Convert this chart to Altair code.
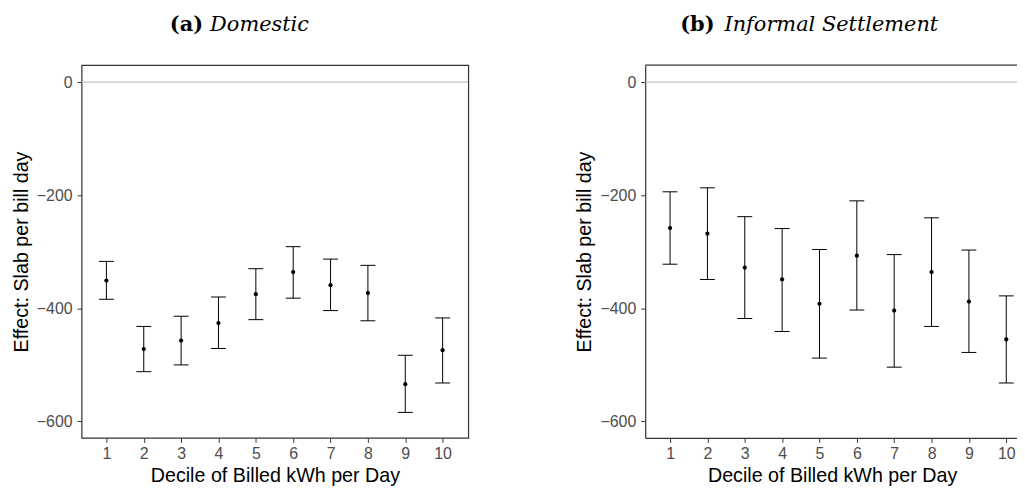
import altair as alt
import pandas as pd

deciles = [1, 2, 3, 4, 5, 6, 7, 8, 9, 10]

dom_est = [-351, -472, -457, -426, -375, -336, -359, -373, -534, -474]
dom_hi = [-317, -432, -414, -380, -330, -291, -313, -324, -483, -417]
dom_lo = [-384, -512, -500, -471, -420, -382, -404, -422, -584, -532]

inf_est = [-258, -268, -328, -349, -392, -307, -404, -336, -388, -455]
inf_hi = [-194, -187, -238, -259, -296, -210, -305, -240, -297, -378]
inf_lo = [-322, -349, -418, -441, -488, -403, -504, -432, -478, -532]

y_ticks = [-600, -400, -200, 0]
titles = [("(a)", "Domestic"), ("(b)", "Informal Settlement")]

H = 375
PX_PER_UNIT = 37.58
X0 = 0.335
W1 = 389
W2 = 376
SANS = "Liberation Sans"
SERIF = "DejaVu Serif"
BORDER = "#333333"


def panel(est, hi, lo, tag, name, tag_right, name_left, width, framed):
    df = pd.DataFrame({"decile": deciles, "est": est, "hi": hi, "lo": lo})
    base = alt.Chart(df)
    xs = alt.Scale(domain=[X0, X0 + width / PX_PER_UNIT], nice=False, zero=False)
    ys = alt.Scale(domain=[-629, 30], nice=False, zero=False)
    xax = alt.Axis(values=deciles, title="Decile of Billed kWh per Day", grid=False,
                   domain=not framed, domainColor=BORDER, domainWidth=1.2,
                   tickColor=BORDER, tickSize=4.5, tickWidth=1,
                   labelColor="#4d4d4d", labelFontSize=16, labelFont=SANS,
                   labelPadding=3, titleFont=SANS, titleFontSize=19.8,
                   titleFontWeight="normal", titleColor="black", titlePadding=4)
    yax = alt.Axis(values=y_ticks, title="Effect: Slab per bill day", grid=False,
                   domain=not framed, domainColor=BORDER, domainWidth=1.2,
                   tickColor=BORDER, tickSize=4.5, tickWidth=1,
                   labelColor="#4d4d4d", labelFontSize=16, labelFont=SANS,
                   labelPadding=5, titleFont=SANS, titleFontSize=19.8,
                   titleFontWeight="normal", titleColor="black", titlePadding=5,
                   format="d", labelExpr="replace(datum.label, '-', '\u2212')")
    zero = alt.Chart(pd.DataFrame({"z": [0]})).mark_rule(
        color="#b5b5b5", strokeWidth=1).encode(y=alt.Y("z:Q", scale=ys, axis=yax))
    bars = base.mark_rule(color="black", strokeWidth=1).encode(
        x=alt.X("decile:Q", scale=xs, axis=xax), y=alt.Y("lo:Q", scale=ys), y2="hi:Q")
    cap_hi = base.mark_rule(color="black", strokeWidth=1, xOffset=-7.5, x2Offset=7.5).encode(
        x="decile:Q", x2="decile:Q", y="hi:Q")
    cap_lo = base.mark_rule(color="black", strokeWidth=1, xOffset=-7.5, x2Offset=7.5).encode(
        x="decile:Q", x2="decile:Q", y="lo:Q")
    pts = base.mark_circle(color="black", size=18, opacity=1).encode(
        x="decile:Q", y="est:Q")
    t1 = alt.Chart(pd.DataFrame({"t": [tag]})).mark_text(
        font=SERIF, fontSize=21, fontWeight="bold", align="right", baseline="alphabetic",
        color="black").encode(text="t:N", x=alt.value(tag_right), y=alt.value(-34))
    t2 = alt.Chart(pd.DataFrame({"t": [name]})).mark_text(
        font=SERIF, fontSize=21, fontStyle="italic", align="left", baseline="alphabetic",
        color="black").encode(text="t:N", x=alt.value(name_left), y=alt.value(-34))
    layers = [zero, bars, cap_hi, cap_lo, pts, t1, t2]
    if framed:
        view = alt.ViewBackground(stroke=BORDER, strokeWidth=1.2)
    else:
        view = alt.ViewBackground(strokeOpacity=0)
        top = alt.Chart(pd.DataFrame({"k": [0]})).mark_rule(
            color=BORDER, strokeWidth=1.2).encode(
            y=alt.value(0), x=alt.value(0), x2=alt.value(width))
        layers.append(top)
    return alt.layer(*layers).properties(width=width, height=H, view=view)


left = panel(dom_est, dom_hi, dom_lo, titles[0][0], titles[0][1], 122.3, 129.3, W1, True)
right = panel(inf_est, inf_hi, inf_lo, titles[1][0], titles[1][1], 69.7, 79.7, W2, False)

chart = alt.hconcat(left, right, spacing=105).properties(
    padding={"left": 2, "top": 4, "right": -3, "bottom": 0}
).configure(background="white")

chart.save("out.html", embed_options={"renderer": "svg", "actions": False})
